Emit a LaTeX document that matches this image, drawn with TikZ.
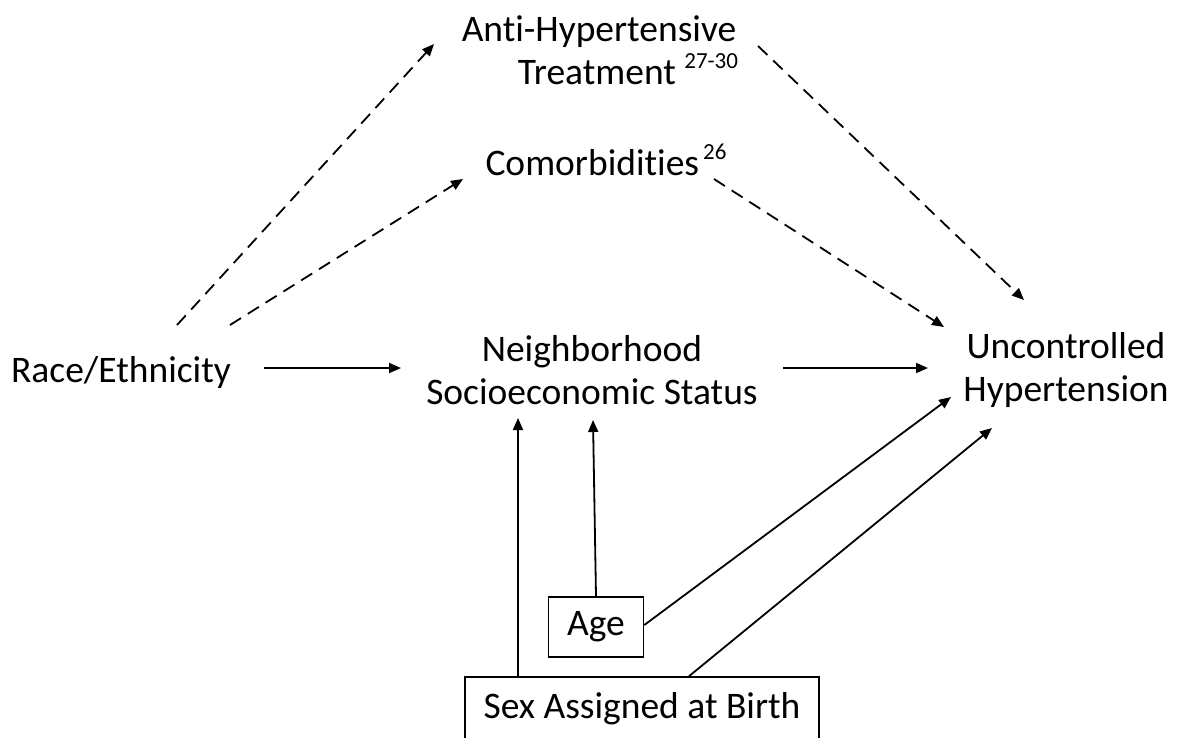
\documentclass[tikz,border=0pt]{standalone}
\usepackage{fontspec}
\setmainfont[RawFeature={-liga;-clig;-dlig;-calt}]{Carlito}
\usetikzlibrary{arrows.meta,calc}
\newcommand{\supnum}[1]{\raisebox{0.42em}{\fontsize{23}{23}\selectfont #1}}
\newcommand{\tinolig}{t\kern0pt i}
\begin{document}
\begin{tikzpicture}[x=1pt,y=-1pt,
  lbl/.style={font=\fontsize{37.5}{43}\selectfont, inner sep=0pt, align=center},
  boxed/.style={font=\fontsize{37.5}{43}\selectfont, draw, line width=1.6pt, inner sep=0pt},
  arr/.style={line width=1.8pt, -{Triangle[length=12pt,width=10pt]}},
  dsh/.style={arr, dash pattern=on 13pt off 8pt}]
\clip (0,0) rectangle (1183,737);
\node[lbl] (aht) at (599,50) {An\tinolig-Hypertensive\\\hspace*{58pt}Treatment \supnum{27-30}};
\node[lbl] (com) at (606,160) {Comorbidi\tinolig es\kern4pt\supnum{26}};
\node[lbl] (race) at (121,372) {Race/Ethnicity};
\node[lbl] (nses) at (592,370) {Neighborhood\\Socioeconomic Status};
\node[lbl] (unc) at (1066,370) {Uncontrolled\\Hypertension};
\node[boxed, minimum width=95pt, minimum height=60pt] (age) at (596,627) {\raisebox{-3pt}{Age}};
\node[boxed, minimum width=354pt, minimum height=64pt] (sex) at (642,709) {\raisebox{-3pt}{Sex Assigned at Birth}};

\draw[dsh] ($(race)+(56,-47)$) -- ($(aht)+(-165,-6)$);
\draw[dsh] ($(race)+(109,-47)$) -- ($(com)+(-143,19)$);
\draw[dsh] ($(aht)+(159,-4)$) -- ($(unc)+(-42,-70)$);
\draw[dsh] ($(com)+(108,19)$) -- ($(unc)+(-122,-43)$);
\draw[arr] ($(race)+(143,-4)$) -- ($(nses)+(-191,-2)$);
\draw[arr] ($(nses)+(191,-2)$) -- ($(unc)+(-138,-2)$);
\draw[arr] ($(sex.north)+(-124,0)$) -- ($(nses)+(-74,48)$);
\draw[arr] (age.north) -- ($(nses)+(1,50)$);
\draw[arr] ($(age.east)+(0,-2)$) -- ($(unc)+(-115,27)$);
\draw[arr] ($(sex.north)+(47,0)$) -- ($(unc)+(-74,58)$);
\end{tikzpicture}
\end{document}
